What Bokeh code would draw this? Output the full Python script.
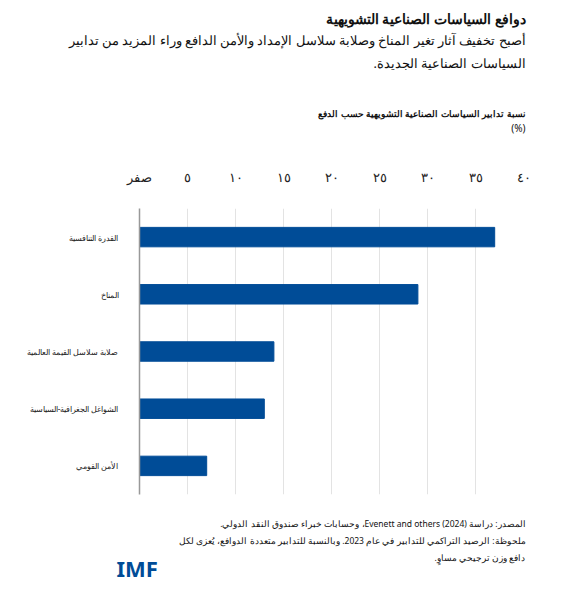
from bokeh.plotting import figure
from bokeh.models import Title, FixedTicker, Range1d, FactorRange
from bokeh.embed import file_html
from bokeh.resources import INLINE

# Data
categories = ["القدرة التنافسية", "المناخ", "صلابة سلاسل القيمة العالمية",
              "الشواغل الجغرافية-السياسية", "الأمن القومي"]
values = [37, 29, 14, 13, 7]
tick_values = [0, 5, 10, 15, 20, 25, 30, 35, 40]
tick_labels = ["صفر", "٥", "١٠", "١٥", "٢٠", "٢٥", "٣٠", "٣٥", "٤٠"]

title_text = "دوافع السياسات الصناعية التشويهية"
subtitle_lines = ["أصبح تخفيف آثار تغير المناخ وصلابة سلاسل الإمداد والأمن الدافع وراء المزيد من تدابير",
                  "السياسات الصناعية الجديدة."]
ytitle_lines = ["نسبة تدابير السياسات الصناعية التشويهية حسب الدفع", "(%)"]
footer_lines = ["المصدر: دراسة Evenett and others (2024)، وحسابات خبراء صندوق النقد الدولي.",
                "ملحوظة: الرصيد التراكمي للتدابير في عام 2023. وبالنسبة للتدابير متعددة الدوافع، يُعزى لكل",
                "دافع وزن ترجيحي مساوٍ."]

RLE, PDF = "\u202B", "\u202C"
FONT = "Noto Sans"
W, H = 555, 582

p = figure(width=W, height=H, output_backend="svg", toolbar_location=None, title=None,
           y_range=FactorRange(*reversed(categories)), x_range=Range1d(0, 40),
           x_axis_location="above",
           min_border_left=139, min_border_right=32, min_border_top=0, min_border_bottom=88)

p.hbar(y=categories, right=values, left=0, height=0.34, color="#004C97")

p.outline_line_color = None
p.ygrid.grid_line_color = None
p.xgrid.grid_line_color = "#e3e3e3"
p.xgrid.ticker = FixedTicker(ticks=tick_values)

xa = p.xaxis[0]
xa.ticker = FixedTicker(ticks=tick_values)
xa.major_label_overrides = {v: l for v, l in zip(tick_values, tick_labels)}
xa.axis_line_color = None
xa.major_tick_line_color = None
xa.minor_tick_line_color = None
xa.major_label_standoff = 17
xa.major_label_text_font_size = "13px"
xa.major_label_text_color = "#222222"
xa.major_label_text_font = FONT

ya = p.yaxis[0]
ya.axis_line_color = "#999999"
ya.axis_line_width = 1.5
ya.major_tick_line_color = None
ya.minor_tick_line_color = None
ya.major_label_standoff = 15
ya.major_label_text_font_size = "8.4px"
ya.major_label_text_color = "#222222"
ya.major_label_text_font = FONT


def add(text, side, size, standoff, bold=False, align="right", offset=-2, color="#111111"):
    p.add_layout(Title(text=(RLE + text + PDF) if align == "right" else text,
                       align=align, offset=offset, standoff=standoff,
                       text_font=FONT, text_font_size=size,
                       text_font_style="bold" if bold else "normal",
                       text_color=color), side)


def spacer(side, size):
    p.add_layout(Title(text=" ", text_font_size="1px", standoff=size), side)


# above: listed from the frame outward
spacer("above", 27)
add(ytitle_lines[1], "above", "10px", 0)
add(ytitle_lines[0], "above", "9px", -2, bold=True)
spacer("above", 31)
add(subtitle_lines[1], "above", "12.7px", 0)
add(subtitle_lines[0], "above", "12.7px", 6)
add(title_text, "above", "13.5px", -5, bold=True)
spacer("above", 6.5)
# below: listed from the frame outward
spacer("below", 16)
for line in footer_lines:
    add(line, "below", "8.5px", 3.5)
add("IMF", "below", "22px", -28, bold=True, align="left", offset=-23, color="#004C97")

open("out.html", "w").write(file_html(p, INLINE))
